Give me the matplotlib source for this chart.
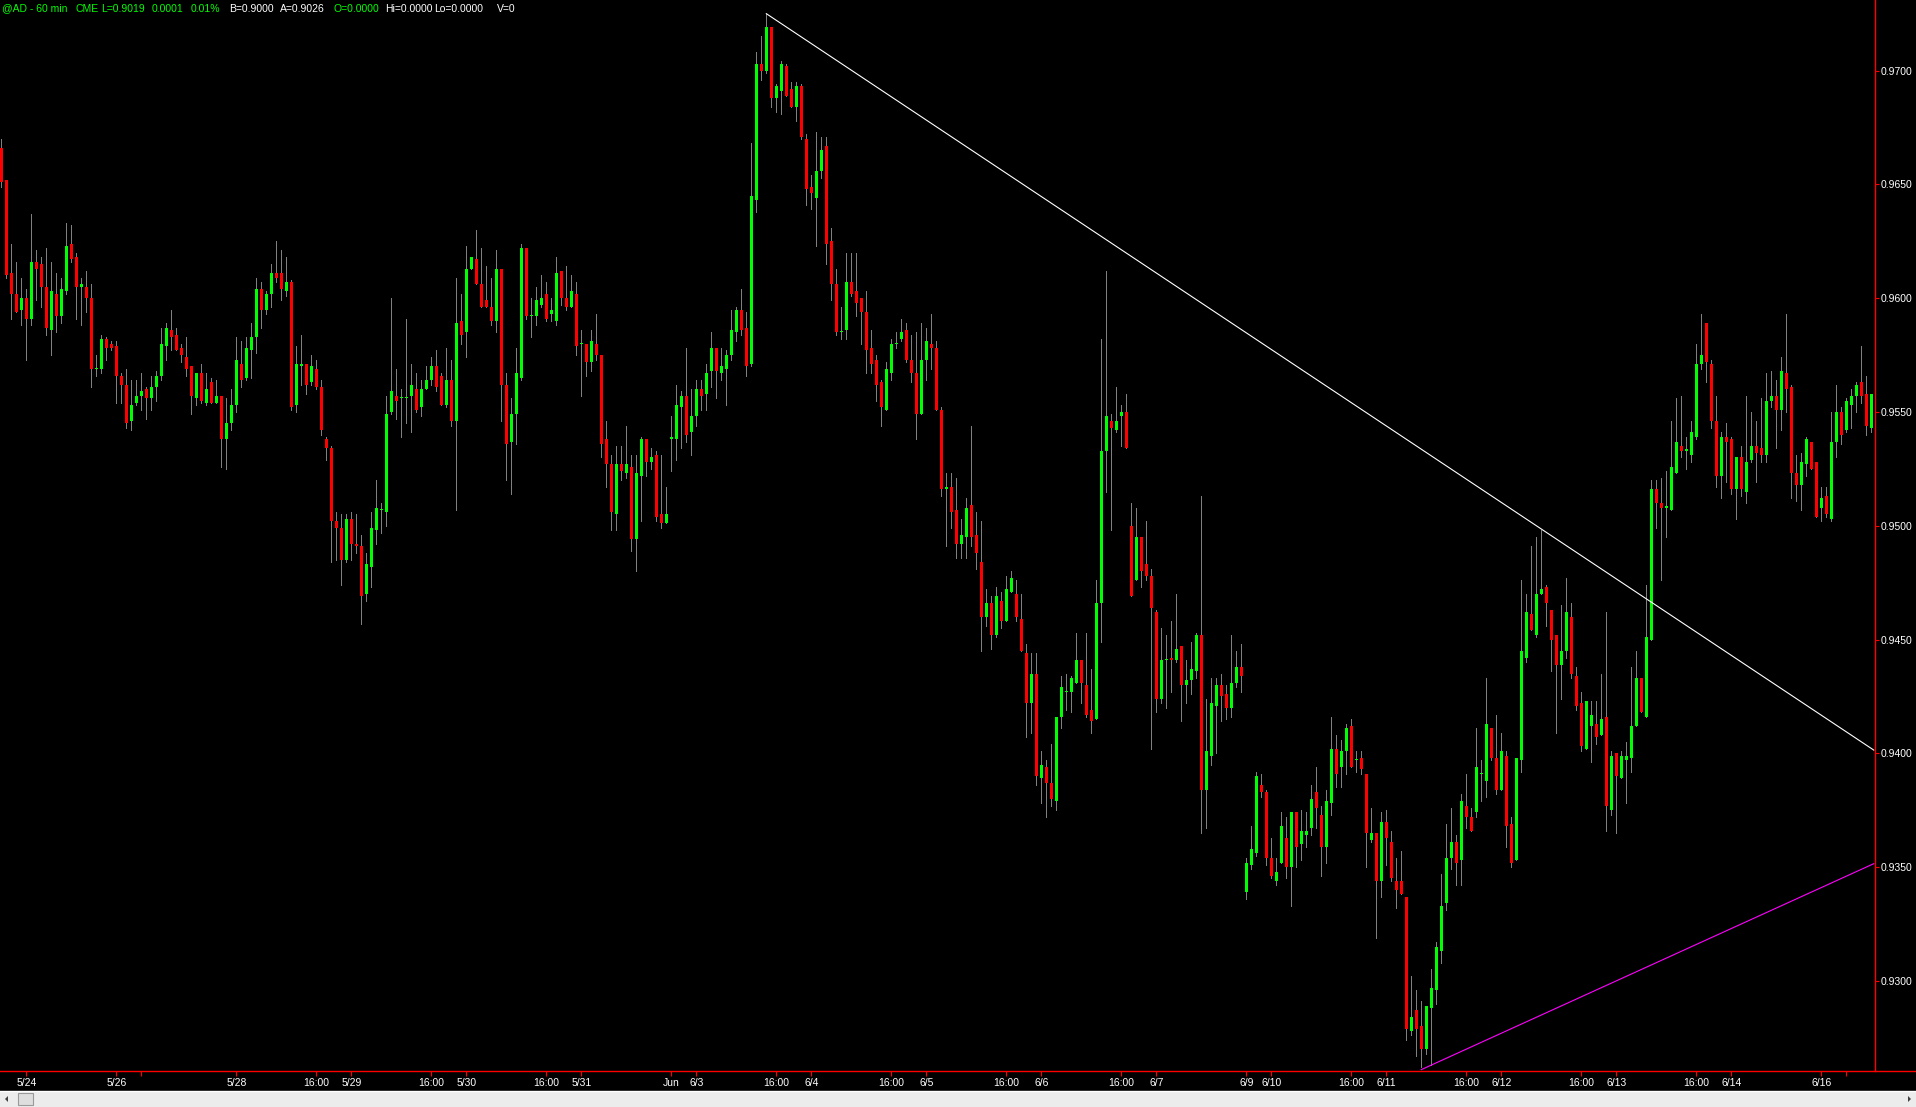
import numpy as np
import matplotlib
matplotlib.use('Agg')
import matplotlib.pyplot as plt
from matplotlib.patches import Rectangle, Polygon
from matplotlib.lines import Line2D

plt.rcParams['font.family'] = ['Liberation Sans', 'DejaVu Sans']

# hourly bars, prices in 1/10000
opn = [9666, 9652, 9611, 9602, 9595, 9600, 9591, 9616, 9615, 9605,
       9586, 9602, 9592, 9603, 9624, 9618, 9605, 9605, 9600, 9569,
       9569, 9582, 9580, 9579, 9566, 9562, 9546, 9554, 9557, 9560,
       9556, 9561, 9566, 9579, 9586, 9584, 9578, 9574, 9570, 9556,
       9567, 9554, 9563, 9554, 9557, 9538, 9545, 9553, 9571, 9565,
       9577, 9583, 9604, 9595, 9602, 9611, 9611, 9603, 9607, 9553,
       9570, 9571, 9563, 9569, 9561, 9538, 9534, 9502, 9499, 9485,
       9503, 9492, 9491, 9470, 9482, 9498, 9507, 9506, 9550, 9557,
       9556, 9556, 9557, 9560, 9552, 9560, 9564, 9570, 9566, 9553,
       9564, 9546, 9590, 9585, 9613, 9617, 9606, 9599, 9596, 9590,
       9613, 9562, 9537, 9549, 9565, 9622, 9592, 9592, 9597, 9602,
       9593, 9590, 9612, 9600, 9596, 9602, 9580, 9580, 9572, 9580,
       9575, 9538, 9527, 9505, 9527, 9523, 9526, 9494, 9522, 9538,
       9528, 9531, 9505, 9501, 9538, 9538, 9552, 9557, 9541, 9548,
       9560, 9558, 9568, 9578, 9567, 9569, 9575, 9585, 9595, 9587,
       9571, 9643, 9703, 9700, 9719, 9688, 9691, 9702, 9692, 9684,
       9693, 9670, 9649, 9644, 9656, 9667, 9625, 9606, 9585, 9586,
       9607, 9603, 9600, 9594, 9578, 9573, 9563, 9551, 9567, 9580,
       9582, 9586, 9573, 9567, 9549, 9573, 9580, 9578, 9551, 9516,
       9517, 9507, 9492, 9495, 9509, 9496, 9484, 9460, 9466, 9452,
       9467, 9458, 9471, 9470, 9459, 9444, 9422, 9435, 9389, 9394,
       9387, 9379, 9416, 9427, 9427, 9431, 9441, 9430, 9419, 9415,
       9466, 9533, 9546, 9542, 9548, 9550, 9500, 9476, 9495, 9483,
       9478, 9462, 9424, 9441, 9442, 9441, 9447, 9430, 9432, 9436,
       9452, 9384, 9399, 9421, 9430, 9426, 9420, 9431, 9438, 9339,
       9351, 9356, 9386, 9383, 9354, 9344, 9352, 9363, 9350, 9374,
       9360, 9364, 9367, 9383, 9373, 9359, 9378, 9402, 9394, 9401,
       9412, 9397, 9398, 9391, 9362, 9365, 9344, 9370, 9361, 9344,
       9344, 9337, 9278, 9287, 9280, 9270, 9288, 9296, 9313, 9334,
       9354, 9361, 9353, 9377, 9372, 9374, 9391, 9388, 9411, 9398,
       9384, 9399, 9369, 9353, 9397, 9442, 9461, 9452, 9470, 9473,
       9463, 9452, 9439, 9445, 9460, 9434, 9422, 9402, 9412, 9413,
       9408, 9416, 9375, 9400, 9389, 9397, 9398, 9412, 9433, 9416,
       9450, 9516, 9510, 9508, 9507, 9523, 9535, 9533, 9531, 9539,
       9571, 9589, 9571, 9546, 9522, 9539, 9538, 9516, 9530, 9515,
       9529, 9535, 9534, 9531, 9555, 9557, 9551, 9567, 9561, 9523,
       9518, 9527, 9537, 9528, 9508, 9513, 9503, 9537, 9550, 9542,
       9553, 9557, 9563, 9558, 9543]

high = [9670, 9652, 9624, 9616, 9609, 9604, 9637, 9621, 9618, 9622,
        9616, 9611, 9609, 9633, 9632, 9620, 9609, 9612, 9606, 9575,
        9584, 9583, 9581, 9581, 9567, 9569, 9564, 9564, 9567, 9561,
        9566, 9568, 9587, 9589, 9595, 9587, 9580, 9583, 9570, 9567,
        9571, 9567, 9565, 9564, 9557, 9556, 9560, 9583, 9581, 9583,
        9589, 9609, 9607, 9603, 9615, 9625, 9621, 9618, 9608, 9579,
        9584, 9571, 9575, 9573, 9564, 9539, 9535, 9506, 9505, 9505,
        9506, 9505, 9496, 9488, 9506, 9520, 9510, 9557, 9600, 9569,
        9560, 9591, 9571, 9567, 9564, 9570, 9574, 9577, 9567, 9578,
        9573, 9609, 9602, 9623, 9618, 9630, 9622, 9614, 9609, 9621,
        9613, 9567, 9556, 9578, 9624, 9622, 9600, 9605, 9610, 9607,
        9600, 9618, 9612, 9614, 9610, 9607, 9586, 9580, 9586, 9593,
        9575, 9546, 9531, 9535, 9535, 9544, 9531, 9531, 9539, 9538,
        9534, 9533, 9531, 9517, 9548, 9562, 9559, 9578, 9560, 9564,
        9564, 9571, 9585, 9578, 9578, 9577, 9595, 9596, 9604, 9594,
        9668, 9708, 9715, 9725, 9719, 9694, 9704, 9703, 9695, 9695,
        9694, 9672, 9654, 9673, 9671, 9671, 9631, 9613, 9596, 9620,
        9620, 9620, 9600, 9603, 9586, 9575, 9564, 9572, 9582, 9585,
        9591, 9589, 9584, 9585, 9589, 9587, 9593, 9581, 9552, 9523,
        9523, 9521, 9503, 9512, 9544, 9506, 9502, 9472, 9469, 9473,
        9471, 9478, 9480, 9476, 9470, 9448, 9444, 9444, 9401, 9397,
        9404, 9416, 9434, 9435, 9434, 9453, 9441, 9453, 9437, 9476,
        9582, 9612, 9549, 9561, 9553, 9558, 9510, 9508, 9495, 9502,
        9481, 9463, 9455, 9452, 9458, 9470, 9447, 9441, 9449, 9453,
        9513, 9424, 9433, 9433, 9435, 9430, 9452, 9445, 9448, 9354,
        9368, 9392, 9391, 9384, 9363, 9354, 9374, 9372, 9374, 9374,
        9375, 9374, 9386, 9394, 9377, 9384, 9416, 9408, 9406, 9413,
        9415, 9401, 9401, 9391, 9376, 9365, 9374, 9375, 9366, 9354,
        9357, 9337, 9302, 9296, 9291, 9289, 9305, 9317, 9347, 9369,
        9376, 9364, 9382, 9391, 9376, 9411, 9397, 9433, 9411, 9417,
        9409, 9401, 9372, 9398, 9476, 9470, 9491, 9495, 9498, 9474,
        9463, 9452, 9465, 9477, 9466, 9438, 9427, 9423, 9423, 9423,
        9435, 9462, 9401, 9400, 9401, 9405, 9438, 9445, 9433, 9474,
        9520, 9520, 9521, 9524, 9546, 9556, 9557, 9539, 9546, 9580,
        9593, 9589, 9573, 9557, 9541, 9545, 9539, 9530, 9535, 9557,
        9550, 9546, 9556, 9567, 9568, 9564, 9574, 9593, 9562, 9531,
        9532, 9539, 9537, 9528, 9517, 9517, 9550, 9562, 9552, 9556,
        9560, 9563, 9579, 9566, 9558]

low = [9649, 9609, 9591, 9594, 9588, 9573, 9588, 9599, 9596, 9584,
       9575, 9585, 9589, 9602, 9616, 9591, 9588, 9594, 9561, 9566,
       9567, 9573, 9577, 9554, 9554, 9543, 9542, 9553, 9551, 9547,
       9551, 9555, 9564, 9573, 9577, 9577, 9572, 9566, 9549, 9553,
       9554, 9553, 9554, 9554, 9526, 9525, 9542, 9550, 9561, 9564,
       9565, 9576, 9587, 9593, 9596, 9607, 9599, 9601, 9551, 9550,
       9562, 9558, 9562, 9560, 9540, 9529, 9484, 9485, 9474, 9484,
       9485, 9488, 9457, 9467, 9473, 9492, 9497, 9500, 9549, 9547,
       9539, 9545, 9541, 9550, 9548, 9560, 9562, 9559, 9553, 9552,
       9544, 9507, 9580, 9574, 9613, 9606, 9596, 9596, 9588, 9585,
       9546, 9520, 9514, 9536, 9564, 9591, 9583, 9588, 9596, 9590,
       9590, 9588, 9597, 9595, 9596, 9575, 9557, 9566, 9568, 9573,
       9530, 9517, 9498, 9498, 9520, 9521, 9489, 9480, 9502, 9522,
       9525, 9502, 9499, 9501, 9524, 9529, 9534, 9537, 9531, 9544,
       9551, 9551, 9561, 9556, 9564, 9553, 9573, 9581, 9584, 9566,
       9570, 9638, 9696, 9699, 9684, 9682, 9681, 9689, 9684, 9678,
       9670, 9641, 9639, 9623, 9653, 9615, 9599, 9584, 9582, 9582,
       9601, 9592, 9580, 9567, 9567, 9555, 9544, 9551, 9564, 9578,
       9581, 9572, 9563, 9538, 9549, 9564, 9569, 9551, 9513, 9491,
       9499, 9486, 9486, 9486, 9491, 9481, 9445, 9456, 9446, 9451,
       9455, 9458, 9471, 9458, 9445, 9407, 9409, 9386, 9378, 9372,
       9377, 9375, 9411, 9419, 9418, 9431, 9422, 9416, 9409, 9415,
       9449, 9515, 9498, 9541, 9535, 9534, 9469, 9476, 9473, 9476,
       9402, 9418, 9422, 9420, 9427, 9440, 9414, 9422, 9426, 9433,
       9365, 9367, 9395, 9400, 9414, 9415, 9416, 9429, 9427, 9336,
       9349, 9355, 9381, 9351, 9345, 9342, 9352, 9345, 9333, 9350,
       9353, 9359, 9364, 9367, 9346, 9352, 9373, 9385, 9385, 9391,
       9394, 9392, 9391, 9350, 9361, 9319, 9337, 9351, 9344, 9332,
       9338, 9274, 9276, 9267, 9262, 9268, 9263, 9290, 9308, 9331,
       9349, 9342, 9342, 9367, 9366, 9372, 9379, 9381, 9397, 9382,
       9384, 9359, 9350, 9353, 9392, 9440, 9454, 9451, 9470, 9456,
       9436, 9409, 9424, 9442, 9433, 9419, 9401, 9402, 9396, 9404,
       9408, 9366, 9373, 9365, 9389, 9378, 9392, 9412, 9418, 9416,
       9450, 9499, 9476, 9495, 9507, 9523, 9530, 9525, 9528, 9538,
       9569, 9563, 9543, 9517, 9512, 9519, 9514, 9503, 9513, 9510,
       9528, 9519, 9528, 9528, 9552, 9534, 9542, 9550, 9512, 9511,
       9507, 9522, 9525, 9504, 9502, 9504, 9502, 9530, 9536, 9541,
       9543, 9550, 9554, 9540, 9541]

cls = [9651, 9610, 9602, 9594, 9600, 9591, 9616, 9613, 9605, 9587,
       9603, 9592, 9604, 9623, 9617, 9605, 9606, 9600, 9569, 9569,
       9582, 9578, 9578, 9566, 9562, 9545, 9553, 9557, 9559, 9556,
       9561, 9566, 9580, 9587, 9583, 9577, 9575, 9569, 9557, 9567,
       9555, 9560, 9554, 9557, 9538, 9545, 9553, 9573, 9564, 9578,
       9583, 9604, 9595, 9602, 9611, 9609, 9604, 9607, 9552, 9571,
       9571, 9562, 9570, 9561, 9542, 9534, 9502, 9499, 9485, 9503,
       9492, 9491, 9469, 9483, 9499, 9508, 9507, 9549, 9559, 9555,
       9556, 9556, 9562, 9551, 9560, 9564, 9570, 9561, 9553, 9564,
       9546, 9589, 9584, 9613, 9618, 9606, 9596, 9596, 9590, 9613,
       9562, 9536, 9549, 9567, 9622, 9592, 9592, 9599, 9600, 9591,
       9595, 9611, 9600, 9596, 9603, 9579, 9580, 9572, 9581, 9575,
       9536, 9527, 9506, 9527, 9524, 9527, 9494, 9523, 9538, 9528,
       9530, 9504, 9501, 9505, 9539, 9553, 9557, 9540, 9548, 9560,
       9557, 9567, 9578, 9568, 9570, 9575, 9586, 9595, 9586, 9570,
       9645, 9703, 9700, 9719, 9688, 9693, 9703, 9689, 9684, 9693,
       9671, 9648, 9646, 9656, 9665, 9624, 9606, 9585, 9585, 9607,
       9602, 9598, 9594, 9577, 9571, 9562, 9552, 9569, 9580, 9580,
       9585, 9573, 9567, 9549, 9573, 9581, 9578, 9551, 9516, 9517,
       9506, 9492, 9496, 9508, 9495, 9488, 9460, 9466, 9452, 9469,
       9458, 9472, 9477, 9460, 9445, 9422, 9435, 9390, 9395, 9387,
       9380, 9416, 9429, 9427, 9433, 9441, 9431, 9417, 9414, 9466,
       9533, 9548, 9543, 9546, 9550, 9534, 9469, 9495, 9480, 9478,
       9464, 9424, 9441, 9441, 9441, 9446, 9430, 9432, 9437, 9452,
       9384, 9401, 9422, 9430, 9425, 9420, 9431, 9438, 9434, 9352,
       9358, 9390, 9383, 9354, 9346, 9348, 9368, 9350, 9374, 9359,
       9366, 9366, 9380, 9376, 9359, 9379, 9402, 9391, 9401, 9411,
       9394, 9397, 9393, 9365, 9365, 9344, 9370, 9363, 9345, 9340,
       9338, 9279, 9284, 9279, 9270, 9289, 9297, 9315, 9333, 9354,
       9361, 9352, 9379, 9372, 9366, 9394, 9391, 9413, 9398, 9384,
       9401, 9368, 9352, 9398, 9445, 9462, 9454, 9470, 9472, 9466,
       9450, 9439, 9445, 9462, 9435, 9421, 9403, 9423, 9417, 9407,
       9415, 9377, 9399, 9390, 9399, 9399, 9412, 9433, 9418, 9451,
       9516, 9510, 9508, 9508, 9526, 9537, 9533, 9533, 9541, 9571,
       9575, 9572, 9546, 9522, 9539, 9537, 9516, 9530, 9516, 9528,
       9535, 9532, 9531, 9555, 9557, 9551, 9568, 9560, 9523, 9518,
       9528, 9538, 9525, 9504, 9512, 9505, 9537, 9550, 9540, 9555,
       9557, 9562, 9557, 9544, 9558]

# time axis labels (bar index -> label)
tick_bars = [5, 23, 28, 47, 63, 70, 86, 93, 109, 116, 134, 139, 155, 162,
             178, 185, 201, 208, 224, 231, 249, 254, 270, 277, 293, 300,
             316, 323, 339, 346, 364, 369]
tick_text = ['5/24', '5/26', '', '5/28', '16:00', '5/29', '16:00', '5/30',
             '16:00', '5/31', 'Jun', '6/3', '16:00', '6/4', '16:00', '6/5',
             '16:00', '6/6', '16:00', '6/7', '6/9', '6/10', '16:00', '6/11',
             '16:00', '6/12', '16:00', '6/13', '16:00', '6/14', '6/16', '']

price_ticks = [0.9300, 0.9350, 0.9400, 0.9450, 0.9500, 0.9550, 0.9600, 0.9650, 0.9700]

# trend lines (bar index, price)
down_line = ([153, 374.5], [0.9725, 0.94014])
up_line = ([284, 374.5], [0.9261, 0.93515])

o = np.array(opn) / 10000.0
h = np.array(high) / 10000.0
l = np.array(low) / 10000.0
c = np.array(cls) / 10000.0
idx = np.arange(len(o))

W, H = 1916, 1107
fig = plt.figure(figsize=(W / 100, H / 100), dpi=100, facecolor='black')
ax = fig.add_axes([0, 36 / H, 1875 / W, 1071 / H], facecolor='black')

# wicks then bodies
ax.vlines(idx, l, h, colors='#808080', linewidth=0.5, antialiased=False, zorder=2)
up = c >= o
body_lo = np.minimum(o, c)
body_h = np.maximum(np.abs(c - o), 0.00005)
cols = np.where(up, '#00ff00', '#ff0000')
ax.bar(idx, body_h, bottom=body_lo, width=0.66, color=cols, linewidth=0,
       antialiased=False, zorder=3)

ax.plot(down_line[0], down_line[1], color='white', linewidth=0.8, zorder=4)
ax.plot(up_line[0], up_line[1], color='#ff00ff', linewidth=0.8, zorder=4)

ax.set_xlim(-0.26, 374.74)
ax.set_ylim(0.92604, 0.97310)

for s in ['top', 'left', 'bottom']:
    ax.spines[s].set_visible(False)
ax.spines['right'].set_color('#ff0000')
ax.spines['right'].set_linewidth(1.0)

ax.yaxis.tick_right()
ax.set_yticks(price_ticks)
ax.set_yticklabels(['%.4f' % v for v in price_ticks])
ax.tick_params(axis='y', direction='out', length=3, width=0.8, color='#ff0000',
               labelcolor='white', labelsize=7.5, pad=1)
ax.set_xticks(tick_bars)
ax.set_xticklabels(tick_text)
ax.tick_params(axis='x', direction='out', length=3.6, width=0.8, color='#ff0000',
               labelcolor='white', labelsize=7.5, pad=1.5)

# bottom red line across the whole width
fig.add_artist(Line2D([0, 1], [36 / H, 36 / H], color='#ff0000', linewidth=1.0,
                      transform=fig.transFigure))

# header
head = [(2, '@AD - 60 min', '#00ff00'), (75, 'CME', '#00ff00'),
        (101, 'L=0.9019', '#00ff00'), (152, '0.0001', '#00ff00'),
        (191, '0.01%', '#00ff00'), (229, 'B=0.9000', 'white'),
        (280, 'A=0.9026', 'white'), (334, 'O=0.0000', '#00ff00'),
        (385, 'Hi=0.0000', 'white'), (434, 'Lo=0.0000', 'white'),
        (497, 'V=0', 'white')]
for x, s, col in head:
    fig.text(x / W, 1 - 8.5 / H, s, color=col, fontsize=7.5, ha='left', va='center')

# scroll bar
fig.add_artist(Rectangle((0, 0), 1, 16 / H, transform=fig.transFigure,
                         facecolor='#ececec', edgecolor='none'))
fig.add_artist(Line2D([0, 1], [16 / H, 16 / H], color='white', linewidth=1.0,
                      transform=fig.transFigure))
fig.add_artist(Rectangle((18 / W, 2 / H), 15 / W, 12 / H, transform=fig.transFigure,
                         facecolor='#dedede', edgecolor='#9a9a9a', linewidth=0.8))
fig.add_artist(Polygon([[5 / W, 8 / H], [8 / W, 11 / H], [8 / W, 5 / H]],
                       transform=fig.transFigure, facecolor='#404040', edgecolor='none'))
fig.add_artist(Polygon([[1911 / W, 8 / H], [1908 / W, 11 / H], [1908 / W, 5 / H]],
                       transform=fig.transFigure, facecolor='#404040', edgecolor='none'))

fig.savefig('out.png', dpi=100, facecolor='black')
